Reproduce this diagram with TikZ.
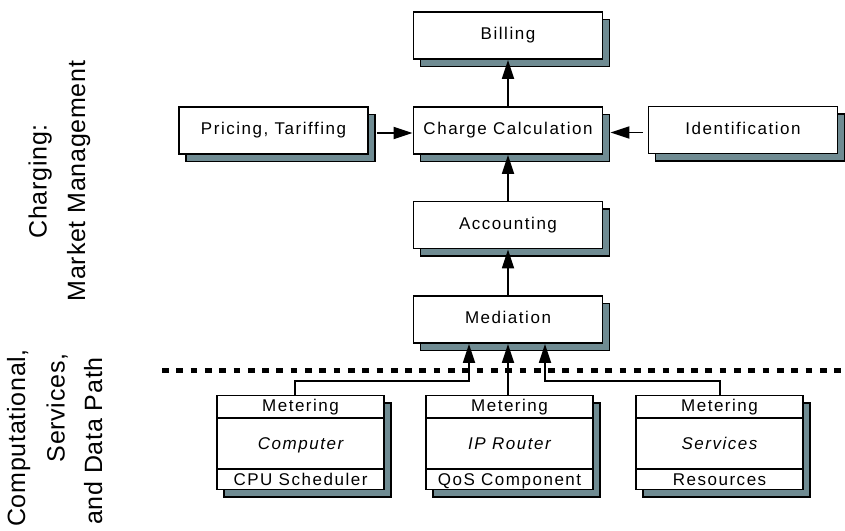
\documentclass[tikz,border=0pt]{standalone}
\usepackage{fontspec}
\setmainfont{Liberation Sans}
\newfontfamily\boxfont{Liberation Sans}[LetterSpace=9]
\newfontfamily\sidefont{Liberation Sans}[LetterSpace=3]
\usetikzlibrary{arrows.meta,shadows,calc}
\definecolor{shadowslate}{RGB}{111,139,146}

\begin{document}
\begin{tikzpicture}[x=1pt,y=-1pt,
  card/.style={draw=black, line width=1.8pt, fill=white, inner sep=0pt,
    minimum width=189pt, minimum height=47pt, text height=8.5pt, text depth=0pt,
    drop shadow={shadow xshift=7pt, shadow yshift=-7.5pt, fill=shadowslate,
      draw=black, line width=1.8pt, opacity=1},
    font=\boxfont\fontsize{17}{20}\selectfont},
  unit/.style={card, minimum width=167pt, minimum height=94pt},
  lbl/.style={inner sep=0pt, anchor=base, font=\boxfont\fontsize{17}{20}\selectfont},
  link/.style={line width=1.8pt},
  flow/.style={link, -{Triangle[length=19pt,width=12pt]}},
  side/.style={rotate=90, anchor=base, inner sep=0pt,
    font=\sidefont\fontsize{25}{30}\selectfont},
]
\useasboundingbox (0,0) rectangle (845,530);

% boundary between the charging layer and the data path
\coordinate (sepL) at (162,370.8);
\coordinate (sepR) at (850,370.8);
\draw[line width=5pt, dash pattern=on 6.7pt off 7.6pt] (sepL) -- (sepR);

% charging / market management layer
\node[card] (bill)  at (508,35.5)    {Billing};
\node[card] (calc)  at (508,130.5)   {Charge Calculation};
\node[card] (price) at (273.5,130.5) {Pricing, Tariffing};
\node[card] (ident) at (743,130)     {Identification};
\node[card] (acct)  at (508,225)     {Accounting};
\node[card] (med)   at (508,319.5)   {Mediation};

% metered components
\node[unit] (comp) at (300.5,442.5) {};
\node[unit] (rtr)  at (509.5,442.5) {};
\node[unit] (svc)  at (719.5,442.5) {};

\foreach \u/\mid/\low in {comp/Computer/CPU Scheduler,
                          rtr/IP Router/QoS Component,
                          svc/Services/Resources} {
  \draw[link] ($(\u.north west)+(0,23)$) -- ($(\u.north east)+(0,23)$);
  \draw[link] ($(\u.south west)+(0,-21.7)$) -- ($(\u.south east)+(0,-21.7)$);
  \node[lbl] (\u-top) at ($(\u.north)+(0,16.5)$) {Metering};
  \node[lbl] (\u-mid) at ($(\u.north)+(0,54.5)$) {\itshape \mid};
  \node[lbl] (\u-low) at ($(\u.south)+(0,-4.5)$) {\low};
}

% flows between the charging stages
\draw[flow] (calc.north) -- (bill.south);
\draw[flow] (acct.north) -- (calc.south);
\draw[flow] (med.north) -- (acct.south);

\coordinate (pin) at ([xshift=8pt,yshift=-2.5pt]price.east);
\draw[flow] (pin) -- (pin -| calc.west);
\coordinate (iin) at ([xshift=-5pt,yshift=-2.5pt]ident.west);
\coordinate (calcsh) at ([xshift=7pt]calc.east);
\draw[flow] (iin) -- (iin -| calcsh);

% metering records feeding mediation
\coordinate (medL) at ([xshift=-39pt]med.south);
\coordinate (medR) at ([xshift=37pt]med.south);
\draw[flow] ([xshift=-5.5pt]comp.north) -- ++(0,-13.5) -| (medL);
\draw[flow] (med.south |- rtr.north) -- (med.south);
\draw[flow] ([xshift=0.5pt]svc.north) -- ++(0,-13.5) -| (medR);

% layer captions
\node[side] (cap1a) at (46.7,181.5) {Charging:};
\node[side] (cap1b) at (85,181)     {Market Management};
\node[side] (cap2a) at (25,438)     {Computational,};
\node[side] (cap2b) at (64.5,408)   {Services,};
\node[side] (cap2c) at (102,441)    {and Data Path};
\end{tikzpicture}
\end{document}
